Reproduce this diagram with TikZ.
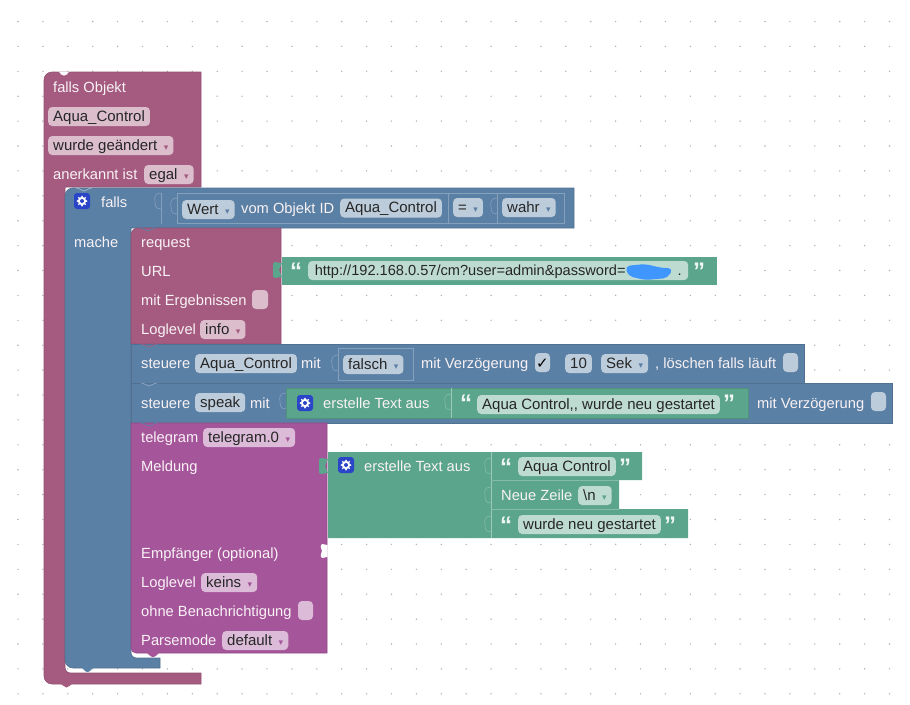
\documentclass[tikz,border=0pt]{standalone}
\usepackage{fontspec}
\setmainfont{Liberation Sans}
\newfontfamily\symfont{DejaVu Sans}
\usepackage{xcolor}

\definecolor{blkred}{HTML}{A55B80}
\definecolor{blkblue}{HTML}{5B80A5}
\definecolor{blkgreen}{HTML}{5BA58C}
\definecolor{blkviolet}{HTML}{A5559A}
\definecolor{fldred}{HTML}{DBBDCC}
\definecolor{fldblue}{HTML}{BDCCDB}
\definecolor{fldgreen}{HTML}{BDDBD1}
\definecolor{fldviolet}{HTML}{DBBBD7}
\definecolor{iconblue}{HTML}{2A45C8}

\tikzset{
    lbl/.style = {anchor = base west, inner sep = 0pt, text = white!92!blkred, font = \fontsize{14.7}{18}\selectfont},
    fld/.style = {anchor = base west, rounded corners = 4pt, inner xsep = 5pt, inner ysep = 0pt,
        text height = 14pt, text depth = 5pt, text = black!85, font = \fontsize{15}{18}\selectfont},
    box/.style = {rounded corners = 4pt, inner sep = 0pt},
    quot/.style = {anchor = base west, inner sep = 0pt, text = white!90!blkgreen, font = \fontsize{24}{24}\selectfont\bfseries},
    blockred/.style = {fill = blkred, draw = blkred!88!black, line width = 0.6pt},
    blockblue/.style = {fill = blkblue, draw = blkblue!88!black, line width = 0.6pt},
    blockgreen/.style = {fill = blkgreen, draw = blkgreen!88!black, line width = 0.6pt},
    blockviolet/.style = {fill = blkviolet, draw = blkviolet!88!black, line width = 0.6pt},
    slot/.style = {draw = white!25!blkblue, line width = 0.6pt},
}

% dropdown arrow in the colour of the field
\newcommand{\ddarr}[1]{\hspace{6.5pt}{\symfont\fontsize{9}{9}\selectfont\textcolor{#1}{▾}}\hspace{5pt}}
% value tab sticking out left of a block
\newcommand{\valtab}[3]{\fill[#3] (#1,#2+1) -- (#1-7,#2) .. controls (#1-9,#2) and (#1-9,#2+2) .. (#1-9,#2+4) -- (#1-9,#2+12) .. controls (#1-9,#2+14) and (#1-9,#2+16) .. (#1-7,#2+16) -- (#1,#2+15) -- (#1-3,#2+8) -- cycle;}
% socket outline inside a block
\newcommand{\sockline}[3]{\draw[#3, line width = 0.6pt] (#1,#2) .. controls (#1-6,#2) and (#1-7,#2+4) .. (#1-6,#2+9) .. controls (#1-6,#2+15) and (#1-3,#2+17) .. (#1,#2+15);}
% little v where a statement joins the one above
\newcommand{\joinline}[3]{\draw[#3, line width = 0.7pt] (#1,#2) .. controls (#1+4,#2) and (#1+5,#2+3) .. (#1+8,#2+3) .. controls (#1+11,#2+3) and (#1+12,#2) .. (#1+16,#2);}
% settings icon
\newcommand{\gearicon}[2]{
    \fill[iconblue, rounded corners = 3pt] (#1,#2) rectangle ++(16,16);
    \foreach \ang in {0,45,...,315}
        \fill[white] (#1+8,#2+8) ++(\ang:4.6) circle (0.9);
    \fill[white] (#1+8,#2+8) circle (4.2);
    \fill[iconblue] (#1+8,#2+8) circle (2);
}

\begin{document}
\begin{tikzpicture}[x = 1pt, y = -1pt]
    \useasboundingbox (0,0) rectangle (910,704);

    % workspace dots
    \foreach \i in {0,...,35}
        \foreach \j in {0,...,27}
            \fill[black!30] (18+24.9*\i,21.5+24.9*\j) circle (0.8);

    % outer trigger block
    \draw[blockred] (60,72) [rounded corners = 8pt] -- (44,72) -- (44,684) [sharp corners] -- (201,684) -- (201,673) [rounded corners = 5pt] -- (65,673) [sharp corners] -- (65,187) -- (201,187) -- (201,72) -- cycle;
    \fill[white] (57,71.5) .. controls (61,71.5) and (60,75.5) .. (64,75.5) .. controls (68,75.5) and (67,71.5) .. (71,71.5) -- cycle;
    \fill[blkred] (60,683) .. controls (63,684) and (63,687.5) .. (66.5,687.5) .. controls (70,687.5) and (70,684) .. (73,683) -- cycle;

    % if block
    \draw[blockblue] (72,188) [rounded corners = 8pt] -- (65,188) -- (65,668) [sharp corners] -- (160,668) -- (160,658) [rounded corners = 5pt] -- (131,658) [sharp corners] -- (131,228) -- (574,228) -- (574,188) -- cycle;
    \joinline{76}{188}{white!45!blkblue}
    \fill[blkblue] (81,667) .. controls (84,668) and (84,672) .. (87.5,672) .. controls (91,672) and (91,668) .. (94,667) -- cycle;
    \sockline{161}{193}{white!25!blkblue}
    \draw[white!25!blkblue, line width = 0.6pt] (161,193) -- (161,224);

    % condition blocks
    \draw[slot] (177,193) rectangle (564,223);
    \draw[slot] (448,193) -- (448,223);
    \draw[slot] (497,193) -- (497,223);
    \sockline{177}{198}{white!25!blkblue}
    \sockline{497}{198}{white!25!blkblue}

    % request block
    \draw[blockred] (141,228) [rounded corners = 7pt] -- (131,228) [sharp corners] -- (131,344) -- (281,344) -- (281,228) -- cycle;
    \joinline{140}{228}{blkblue}
    \valtab{282}{262}{blkgreen}
    \fill[blkgreen] (282,257) rectangle (717,285);

    % control blocks
    \draw[blockblue] (131,344) rectangle (804,383);
    \draw[blockblue] (131,383) rectangle (892,423);
    \joinline{141}{383}{white!30!blkblue}
    \joinline{141}{344}{blkred}
    \draw[slot] (338,348) rectangle (413,380);
    \sockline{338}{355}{white!25!blkblue}

    % telegram block
    \draw[blockviolet] (131,423) [sharp corners] -- (131,648) [rounded corners = 5pt] -- (131,653) [sharp corners] -- (327,653) -- (327,423) -- cycle;
    \joinline{141}{423}{blkblue}
    \fill[blkviolet] (146,652) .. controls (149,653) and (149,657) .. (153,657) .. controls (157,657) and (157,653) .. (160,652) -- cycle;
    \fill[white] (327.5,545) -- (322,544) .. controls (319,547) and (322,548) .. (322,551) .. controls (322,554) and (319,555) .. (322,558) -- (327.5,557) -- cycle;

    % text join blocks
    \draw[blockgreen] (286,388) rectangle (748,418);
    \draw[white!40!blkgreen, line width = 0.6pt] (451,388) -- (451,418);
    \sockline{286}{393}{white!25!blkblue}
    \sockline{451}{394}{white!25!blkgreen}
    \fill[blkgreen] (328,452) -- (642,452) -- (642,480) -- (619,480) -- (619,509) -- (688,509) -- (688,538) -- (328,538) -- cycle;
    \valtab{328}{458}{blkgreen}
    \draw[white!40!blkgreen, line width = 0.6pt] (491,452) -- (491,538);
    \draw[white!25!blkgreen, line width = 0.6pt] (491,480) -- (619,480);
    \draw[white!25!blkgreen, line width = 0.6pt] (491,509) -- (619,509);
    \sockline{491}{458}{white!25!blkgreen}
    \sockline{491}{487}{white!25!blkgreen}
    \sockline{491}{516}{white!25!blkgreen}

    % outer trigger text
    \node[lbl] (trigtitle) at (53,92) {falls Objekt};
    \node[fld, fill = fldred] (trigobj) at (48,121) {Aqua\_Control};
    \node[fld, fill = fldred] (trigmode) at (48,150) {wurde geändert\ddarr{blkred}};
    \node[lbl] (trigack) at (53,179) {anerkannt ist};
    \node[fld, fill = fldred] (trigany) at (144,179) {egal\ddarr{blkred}};

    % if text
    \gearicon{74}{193}
    \node[lbl] (iftitle) at (101,207) {falls};
    \node[lbl] (ifdo) at (74,247) {mache};
    \node[fld, fill = fldblue] (condval) at (182,214) {Wert\ddarr{blkblue}};
    \node[lbl] (condtxt) at (241,213) {vom Objekt ID};
    \node[fld, fill = fldblue] (condobj) at (340,212.5) {Aqua\_Control};
    \node[fld, fill = fldblue] (condeq) at (453,212) {=\ddarr{blkblue}};
    \node[fld, fill = fldblue] (condtrue) at (502,212) {wahr\ddarr{blkblue}};

    % request text
    \node[lbl] (reqtitle) at (141,247) {request};
    \node[lbl] (requrl) at (141,276) {URL};
    \node[lbl] (reqres) at (141,305) {mit Ergebnissen};
    \node[lbl] (reqlog) at (141,334) {Loglevel};
    \fill[fldred, box] (252,290) rectangle (268,309);
    \node[fld, fill = fldred] (reqinfo) at (200,334) {info\ddarr{blkred}};
    \node[quot] (urlopen) at (290,279.5) {“};
    \node[fld, fill = fldgreen, minimum width = 380pt, align = left, inner xsep = 4pt, font = \fontsize{14.6}{18}\selectfont] (urltxt) at (308,275) {http://192.168.0.57/cm?user=admin\&password=\hspace{52pt}.};
    \node[quot] (urlclose) at (693,279.5) {”};
    \fill[blue!55!cyan!75!white, rounded corners = 5pt] (625,266) -- (645,264) -- (662,268) -- (673,268) -- (668,278) -- (645,280) -- (628,276) -- cycle;

    % first control text
    \node[lbl] (ctrlone) at (141,368) {steuere};
    \node[fld, fill = fldblue] (ctrlobj) at (195,368) {Aqua\_Control};
    \node[lbl] (ctrlwith) at (301,368) {mit};
    \node[fld, fill = fldblue] (ctrlfalse) at (343,369) {falsch\ddarr{blkblue}};
    \node[lbl] (ctrldelay) at (421,368) {mit Verzögerung};
    \fill[fldblue, box] (535,353) rectangle (550,372);
    \node[anchor = base, inner sep = 0pt, font = \symfont\fontsize{15}{15}\selectfont] (ctrlcheck) at (542.5,368) {✓};
    \node[fld, fill = fldblue] (ctrlten) at (565,368) {10};
    \node[fld, fill = fldblue] (ctrlsec) at (601,368) {Sek\ddarr{blkblue}};
    \node[lbl] (ctrlclear) at (655,368) {, löschen falls läuft};
    \fill[fldblue, box] (783,353) rectangle (798,372);

    % second control text
    \node[lbl] (ctrltwo) at (141,408) {steuere};
    \node[fld, fill = fldblue] (ctrlspeak) at (195,407) {speak};
    \node[lbl] (ctrlwithb) at (250,408) {mit};
    \gearicon{297}{395}
    \node[lbl] (maketxt) at (323,408) {erstelle Text aus};
    \node[quot] (speakopen) at (460,411.5) {“};
    \node[fld, fill = fldgreen, minimum width = 241pt, align = left] (speaktxt) at (477,409) {Aqua Control,{}, wurde neu gestartet};
    \node[quot] (speakclose) at (723,411.5) {”};
    \node[lbl] (ctrldelayb) at (757,408) {mit Verzögerung};
    \fill[fldblue, box] (871,392) rectangle (886,411);

    % telegram text
    \node[lbl] (tgtitle) at (141,442) {telegram};
    \node[fld, fill = fldviolet] (tginst) at (203,442) {telegram.0\ddarr{blkviolet}};
    \node[lbl] (tgmsg) at (141,471) {Meldung};
    \gearicon{338}{457}
    \node[lbl] (maketxtb) at (364,471) {erstelle Text aus};
    \node[quot] (rowaopen) at (500,475) {“};
    \node[fld, fill = fldgreen] (rowatxt) at (518,471) {Aqua Control};
    \node[quot] (rowaclose) at (619,475) {”};
    \node[lbl] (rowbtxt) at (501,500) {Neue Zeile};
    \node[fld, fill = fldgreen] (rowbnl) at (578,500) {\textbackslash n\ddarr{blkgreen}};
    \node[quot] (rowcopen) at (500,533) {“};
    \node[fld, fill = fldgreen] (rowctxt) at (518,529) {wurde neu gestartet};
    \node[quot] (rowcclose) at (664,533) {”};
    \node[lbl] (tgrecv) at (141,558) {Empfänger (optional)};
    \node[lbl] (tglog) at (141,587) {Loglevel};
    \node[fld, fill = fldviolet] (tgkeins) at (201,587) {keins\ddarr{blkviolet}};
    \node[lbl] (tgsilent) at (141,616) {ohne Benachrichtigung};
    \fill[fldviolet, box] (298,601) rectangle (313,620);
    \node[lbl] (tgparse) at (141,645) {Parsemode};
    \node[fld, fill = fldviolet] (tgdefault) at (222,645) {default\ddarr{blkviolet}};
\end{tikzpicture}
\end{document}
